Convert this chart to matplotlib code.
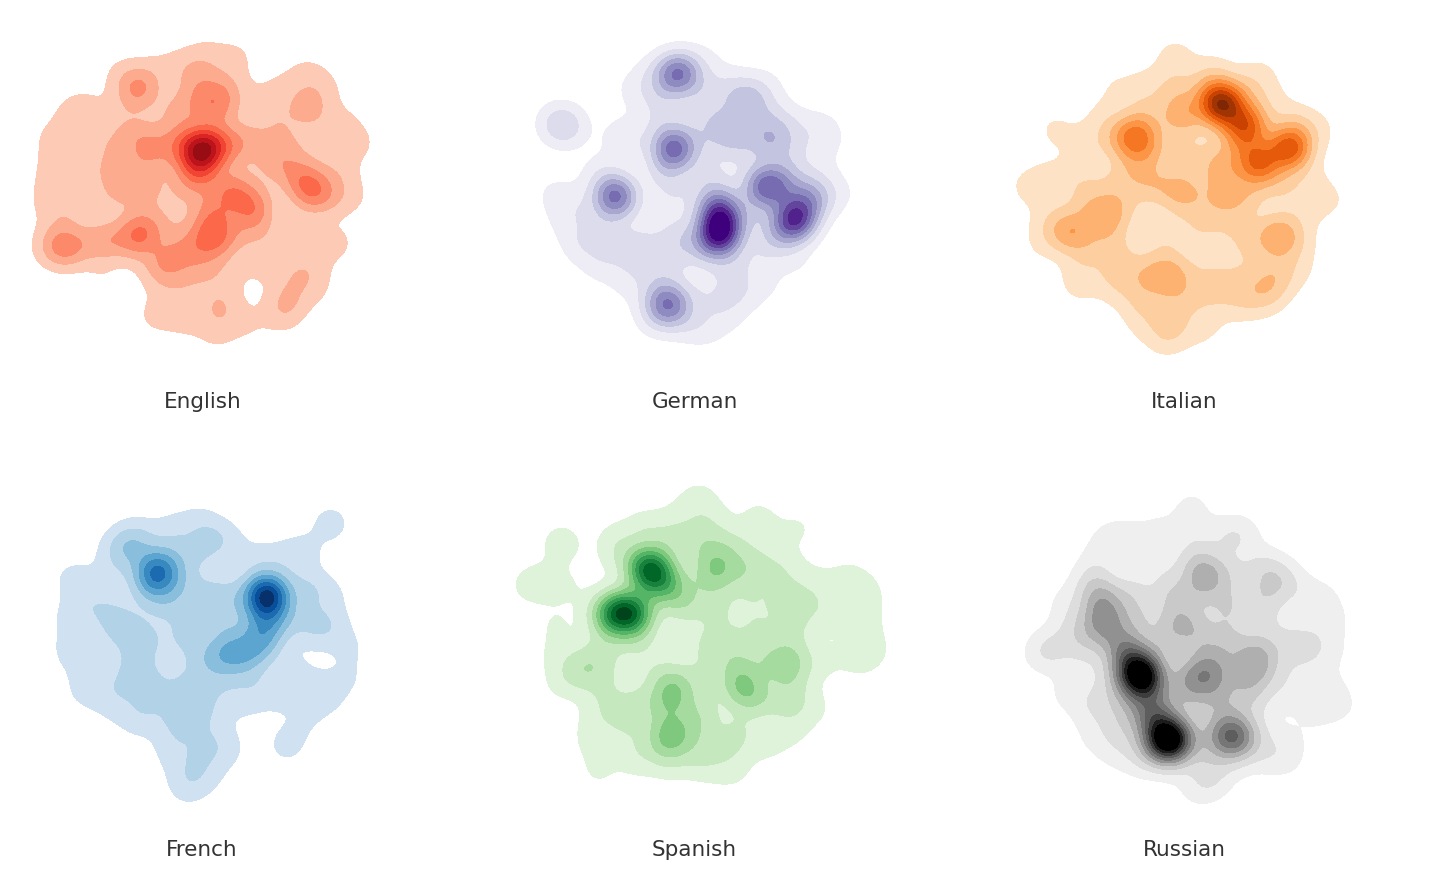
import numpy as np
import matplotlib
matplotlib.use("Agg")
import matplotlib.pyplot as plt

# points: (x, y, weight), in map units per panel
english_points = [
    (560,75,1.0),(650,80,1.0),(470,100,.8),(400,120,.7),(300,130,.8),(355,178,3.6),(530,140,1.8),(620,170,1.5),
    (590,225,3.4),(470,250,2.0),(530,210,1.5),(365,325,2.4),(300,260,1.0),(200,230,.9),(150,250,.9),(100,330,1.2),
    (190,330,1.2),(100,420,1.2),(190,420,1.2),(280,340,1.3),(290,420,1.8),(380,400,1.8),(290,490,1.8),(170,520,1.3),
    (380,480,1.7),(440,350,1.9),(548,360,8.0),(500,345,2.0),(590,340,2.0),(530,430,4.0),(640,345,2.0),(700,330,1.5),
    (770,260,1.2),(860,220,1.6),(800,330,1.3),(750,400,1.5),(640,480,3.6),(700,530,3.6),(580,530,2.2),(570,590,2.6),
    (570,640,2.5),(500,660,2.2),(440,695,2.2),(620,620,1.8),(700,590,1.5),(850,450,3.0),(880,490,3.0),(800,400,1.5),
    (930,500,1.2),(860,130,1.0),(920,170,.8),(780,170,.8),(880,250,1.0),(970,280,1.0),(900,340,1.0),(1020,340,1.0),
    (960,420,1.2),(1000,500,.9),(350,630,3.0),(370,590,2.6),(270,630,1.7),(230,640,1.7),(140,650,3.6),(90,650,1.3),
    (250,770,.8),(110,560,.9),(80,500,1.0),(420,730,1.3),(500,770,1.0),(600,830,1.9),(800,820,1.8),(720,700,1.0),
    (870,700,1.2),(950,640,1.2),(880,770,1.1),(810,740,1.1),(620,740,1.0),(550,720,1.2),(590,910,1.0),(680,880,.9),
    (500,870,1.0),(400,860,.9),(450,830,.8),(780,860,.8),(830,610,1.0),(760,650,.8),(710,220,.8),(450,590,1.0),(470,500,1.2),
]
german_points = [
    (560,90,.8),(400,130,1.0),(340,180,1.1),(420,190,1.3),(560,180,1.6),(640,170,1.4),(740,170,1.0),(420,260,1.6),
    (570,260,1.6),(660,270,1.5),(750,260,1.4),(810,280,1.1),(900,290,1.0),(300,320,1.3),(560,330,1.5),(660,350,1.3),
    (750,340,1.5),(830,340,1.2),(930,330,.8),(240,430,1.3),(430,430,1.8),(560,430,1.8),(800,410,1.5),(900,420,.9),
    (170,530,1.2),(100,490,1.0),(470,500,1.5),(960,490,.9),(880,500,2.0),(240,590,1.2),(180,640,1.6),(290,640,1.6),
    (370,640,1.7),(470,620,2.1),(540,650,2.0),(690,560,1.6),(130,570,.8),(240,700,1.3),(350,700,1.5),(450,700,1.7),
    (640,720,1.5),(720,680,1.1),(830,700,.8),(400,770,1.3),(660,790,1.5),(560,800,1.2),(740,770,.8),(310,770,.7),
    (400,870,.8),(560,900,1.0),(620,850,1.2),(500,880,1.2),
    (475,130,7.5),(685,210,3.0),(462,355,8.0),(350,340,1.0),(287,500,8.0),(110,280,2.0),(145,290,2.0),(600,560,7.5),
    (600,620,9.0),(590,510,3.0),(735,470,7.5),(800,470,2.5),(825,570,9.5),(770,620,2.5),(870,510,2.5),(450,820,6.0),
    (420,840,1.5),(630,310,2.2),(745,325,2.2),(400,540,.6),(510,250,.7),(660,410,.5),(570,740,.5),
]
italian_points = [
    (650,225,10.0),(725,285,7.0),(855,355,8.0),(760,400,7.0),(393,322,6.0),(820,615,4.2),(300,565,3.0),(195,605,4.0),
    (515,465,1.8),(530,255,4.0),(510,80,1.3),(770,130,.9),(620,130,1.3),(330,170,.8),(420,170,1.1),(510,170,1.7),
    (620,190,2.0),(720,180,1.5),(800,210,.9),(300,260,1.0),(420,250,1.5),(870,280,1.5),(940,300,1.0),(150,300,1.1),
    (250,330,.9),(330,330,1.6),(395,410,2.2),(460,360,1.7),(560,370,1.7),(640,400,1.6),(700,340,2.0),(220,385,.6),
    (130,460,1.7),(60,470,.9),(230,450,1.2),(330,460,1.5),(440,470,2.2),(540,500,2.4),(640,510,2.4),(720,500,2.4),
    (650,430,2.0),(830,470,1.7),(920,450,.9),(980,510,.9),(900,540,1.1),(250,520,1.7),(350,530,1.7),(590,590,1.8),
    (690,590,1.6),(130,570,1.1),(110,640,.9),(250,650,1.3),(330,640,1.5),(480,610,1.6),(740,640,1.3),(880,640,1.1),
    (230,720,1.0),(340,710,1.6),(420,720,1.7),(490,710,2.0),(500,750,1.8),(600,700,1.1),(700,700,1.0),(810,720,1.6),
    (880,720,.9),(220,770,.9),(330,770,1.2),(420,780,1.4),(540,780,1.4),(640,770,1.9),(730,780,1.6),(800,770,1.7),
    (400,830,1.0),(500,830,1.0),(600,840,.9),(700,830,.9),(780,810,.9),(420,880,.9),(500,895,1.5),(590,900,.9),(480,930,.9),
]
french_points = [
    (350,232,7.0),(680,302,10.5),(665,440,3.5),(680,380,3.2),(550,470,3.0),(610,480,3.0),(480,80,1.0),(400,100,1.0),
    (300,120,1.0),(560,130,1.0),(510,140,1.5),(790,170,1.2),(873,85,1.4),(100,252,1.3),(240,160,1.7),(280,150,1.6),
    (400,170,1.3),(470,190,1.1),(640,190,1.0),(720,190,1.0),(800,280,1.8),(870,300,1.0),(220,230,1.0),(420,260,1.5),
    (500,300,1.7),(570,300,1.7),(170,310,1.0),(220,370,1.9),(270,410,1.6),(320,290,1.5),(120,350,1.0),(80,380,.7),
    (380,330,1.8),(470,360,1.7),(560,380,1.8),(760,370,1.5),(830,400,1.6),(880,390,1.0),(930,460,.9),(320,440,1.7),
    (430,430,1.8),(480,500,1.6),(290,510,1.8),(90,470,1.2),(180,470,1.1),(150,550,1.2),(240,570,1.2),(340,570,1.8),
    (440,580,1.8),(540,550,1.4),(640,560,1.1),(760,530,1.1),(830,590,1.0),(930,550,.8),(130,600,.7),(220,630,1.0),
    (320,640,1.1),(430,640,1.8),(520,630,1.2),(620,620,1.0),(720,600,1.1),(860,600,1.0),(290,680,.9),(400,700,1.2),
    (500,700,1.1),(800,680,.8),(400,770,1.2),(490,770,1.2),(560,760,1.2),(740,750,1.3),(440,850,1.2),(500,840,1.0),(440,890,.6),
]
spanish_points = [
    (430,280,9.0),(470,320,4.5),(330,415,7.5),(385,415,7.5),(625,275,3.5),(505,655,3.2),(510,775,3.0),(720,650,3.0),(875,405,1.6),
    (840,565,1.8),(675,510,1.6),(580,70,1.2),(760,120,1.0),(170,205,1.6),(880,160,1.0),(620,130,1.1),(520,130,1.0),
    (420,160,1.5),(330,190,1.0),(500,200,1.6),(590,200,2.0),(680,210,1.8),(780,190,.9),(340,240,1.3),(70,330,1.2),
    (130,320,1.0),(200,340,.7),(520,350,2.0),(620,340,1.7),(700,290,1.8),(760,280,1.6),(840,280,1.5),(930,320,1.0),
    (1030,310,1.2),(1090,350,1.0),(540,400,1.8),(640,420,1.6),(740,380,1.5),(840,370,1.6),(950,390,1.0),(150,450,.9),
    (280,420,.8),(300,510,1.5),(400,500,1.6),(760,470,1.7),(860,480,1.7),(1000,430,1.0),(1090,430,1.0),(150,540,.9),
    (240,560,1.5),(600,510,1.7),(700,570,1.6),(790,560,1.8),(880,560,1.4),(1100,520,1.1),(1060,550,1.1),(220,600,1.6),
    (300,590,1.5),(430,580,1.0),(500,610,1.7),(600,600,1.6),(700,620,1.7),(860,630,1.5),(960,560,.9),(160,630,.8),
    (300,670,1.5),(400,680,1.6),(480,700,1.6),(590,700,1.8),(770,680,1.6),(850,690,1.5),(930,700,1.0),(270,740,.9),
    (360,730,1.6),(470,780,1.6),(590,760,1.6),(700,770,1.8),(860,770,1.0),(260,800,1.0),(370,810,1.0),(480,820,1.4),
    (580,830,1.1),(680,830,1.0),(790,820,.9),(280,890,1.0),(400,860,1.0),(500,870,1.0),(600,870,1.1),(680,890,1.0),(500,500,.6),
]
russian_points = [
    (380,585,13.0),(340,520,5.0),(465,775,13.0),(420,710,4.0),(650,770,8.0),(255,350,3.0),(265,420,2.8),(480,440,2.6),
    (570,280,3.2),(460,315,1.2),(520,595,3.5),(570,575,3.0),(720,550,2.6),(785,318,1.1),(675,165,1.7),(530,80,1.1),
    (430,150,1.0),(280,170,.9),(340,170,1.0),(530,160,1.0),(620,170,1.0),(250,230,.9),(420,240,1.2),(540,240,1.7),
    (640,280,1.7),(740,260,1.8),(800,290,1.5),(860,340,1.0),(230,300,1.7),(350,340,2.2),(480,360,2.2),(560,330,2.0),
    (640,360,1.7),(740,350,1.8),(930,350,.9),(150,370,1.0),(180,440,1.4),(270,400,2.0),(370,420,2.3),(530,430,2.1),
    (640,410,1.7),(750,420,1.6),(880,480,1.6),(820,490,1.6),(960,420,.9),(120,500,1.5),(80,520,1.4),(220,480,2.0),
    (300,470,2.5),(440,500,2.0),(560,490,2.3),(640,490,2.5),(730,510,2.3),(950,510,.9),(200,560,1.0),(310,580,2.0),
    (610,570,2.4),(710,590,2.2),(800,570,1.0),(890,560,.9),(945,628,.9),(150,640,1.0),(250,650,1.2),(340,650,2.2),
    (420,640,2.5),(520,660,2.2),(600,640,2.4),(690,640,1.9),(800,640,1.0),(880,640,.9),(980,680,.9),(220,690,1.0),
    (310,710,1.3),(400,700,2.2),(620,700,2.0),(720,690,1.0),(900,710,.8),(240,770,1.0),(330,760,1.3),(420,790,2.5),
    (560,770,1.6),(720,770,1.5),(820,790,.9),(300,820,.9),(380,840,1.3),(470,830,2.0),(570,830,1.4),(650,840,1.0),
    (740,830,1.0),(810,840,1.0),(590,900,1.7),(540,930,.9),
]

languages = ["English", "German", "Italian", "French", "Spanish", "Russian"]
cmaps = ["Reds", "Purples", "Oranges", "Blues", "Greens", "Greys"]
all_points = [english_points, german_points, italian_points, french_points, spanish_points, russian_points]

# panel placement in figure pixels: left, top, width, height
panels = [(20, 30, 375, 330), (520, 30, 350, 330), (1005, 30, 350, 330),
          (40, 495, 330, 320), (505, 475, 390, 330), (1015, 480, 350, 330)]
label_pos = [(203, 402), (695, 402), (1184, 402), (202, 850), (694, 850), (1184, 850)]
color_start = [0.2, 0.13, 0.15, 0.2, 0.15, 0.13]
n_layers = [9, 9, 9, 8, 9, 10]
level_step = 1.4
bandwidth = 46.0

W, H = 1433, 891
fig = plt.figure(figsize=(W / 100, H / 100), dpi=100)


def density(points, xx, yy):
    pts = np.array(points)
    z = np.zeros_like(xx)
    for px, py, w in pts:
        z += w * np.exp(-((xx - px) ** 2 + (yy - py) ** 2) / (2 * bandwidth ** 2))
    return z


for i, name in enumerate(languages):
    left, top, width, height = panels[i]
    ax = fig.add_axes([left / W, 1 - (top + height) / H, width / W, height / H])
    xs = np.linspace(0, width * 3, 500)
    ys = np.linspace(0, height * 3, 500)
    xx, yy = np.meshgrid(xs, ys)
    z = density(all_points[i], xx, yy)

    n = n_layers[i]
    levels = [1 + k * level_step for k in range(n)]
    levels.append(max(z.max(), levels[-1]) + 1)
    colors = plt.get_cmap(cmaps[i])(np.linspace(color_start[i], 1, n))
    ax.contourf(xx, yy, z, levels=levels, colors=colors)
    ax.set_xlim(0, width * 3)
    ax.set_ylim(height * 3, 0)
    ax.axis("off")

    lx, ly = label_pos[i]
    fig.text(lx / W, 1 - ly / H, name, ha="center", va="center", fontsize=15.5, color="#333333",
             fontfamily="DejaVu Sans")

fig.savefig("out.png", dpi=100)
